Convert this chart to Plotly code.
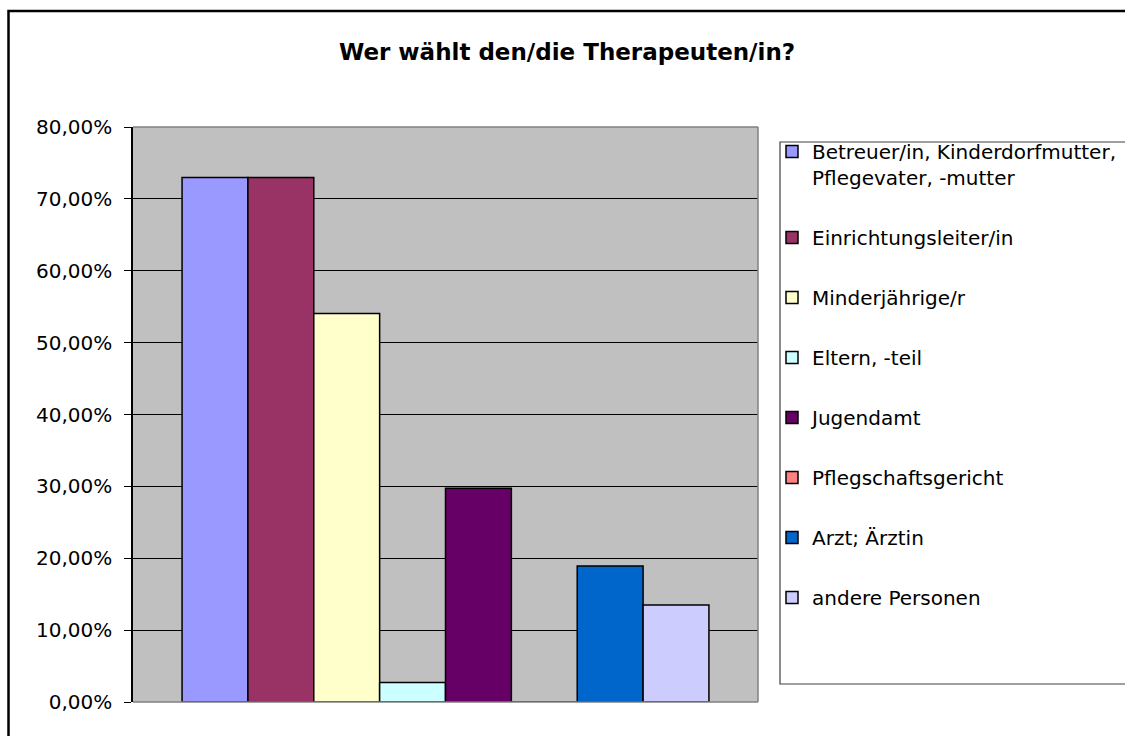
import plotly.graph_objects as go

# ---- data ----
category = ["Wer wählt den/die Therapeuten/in?"]
series_names = [
    "Betreuer/in, Kinderdorfmutter,<br>Pflegevater, -mutter",
    "Einrichtungsleiter/in",
    "Minderjährige/r",
    "Eltern, -teil",
    "Jugendamt",
    "Pflegschaftsgericht",
    "Arzt; Ärztin",
    "andere Personen",
]
series_values = [0.7297, 0.7297, 0.5405, 0.0270, 0.2973, 0.0, 0.1892, 0.1351]
series_colors = ["#9999FF", "#993366", "#FFFFCC", "#CCFFFF", "#660066", "#FF8080", "#0066CC", "#CCCCFF"]
y_ticks = [0.0, 0.1, 0.2, 0.3, 0.4, 0.5, 0.6, 0.7, 0.8]
title_text = "Wer wählt den/die Therapeuten/in?"

FONT = "DejaVu Sans"

# plot area in pixels
W, H = 1125, 736
L, R, T, B = 133, 758, 127, 702


def px_x(p):
    return (p - L) / (R - L)


def px_y(p):
    return (B - p) / (B - T)


fig = go.Figure()
for i, (name, val, col) in enumerate(zip(series_names, series_values, series_colors)):
    fig.add_trace(go.Bar(
        x=category, y=[val], name=name,
        marker=dict(color=col, line=dict(color="black", width=1.5)),
        legendgroup=f"g{i}",
        hoverinfo="name+y",
    ))

shapes = [
    # plot area border (top, right, bottom) gray
    dict(type="line", xref="paper", yref="paper", x0=0, x1=1, y0=1, y1=1,
         line=dict(color="#808080", width=1.5), layer="above"),
    dict(type="line", xref="paper", yref="paper", x0=1, x1=1, y0=0, y1=1,
         line=dict(color="#808080", width=1.5), layer="above"),
    dict(type="line", xref="paper", yref="paper", x0=0, x1=1, y0=0, y1=0,
         line=dict(color="#808080", width=1.5), layer="above"),
    # legend box
    dict(type="rect", xref="paper", yref="paper",
         x0=px_x(780), x1=px_x(1135), y0=px_y(684), y1=px_y(142),
         line=dict(color="#404040", width=1.2), fillcolor="rgba(0,0,0,0)", layer="above"),
    # outer chart border
    dict(type="rect", xref="paper", yref="paper",
         x0=px_x(8.5), x1=px_x(1140), y0=px_y(750), y1=px_y(11),
         line=dict(color="black", width=2.5), fillcolor="rgba(0,0,0,0)", layer="above"),
]

fig.update_layout(
    width=W, height=H, autosize=False,
    margin=dict(l=L, r=W - R, t=T, b=H - B, pad=0, autoexpand=False),
    paper_bgcolor="white",
    plot_bgcolor="#C0C0C0",
    separators=",.",
    font=dict(family=FONT, size=20, color="black"),
    title=dict(text=f"<b>{title_text}</b>", x=567 / W, xref="container", xanchor="center",
               y=1 - 52 / H, yref="container", yanchor="middle",
               font=dict(family=FONT, size=23, color="black")),
    barmode="group",
    bargap=0.157,
    bargroupgap=0,
    showlegend=True,
    legend=dict(
        xref="container", yref="container",
        x=772 / W, xanchor="left", y=1 - 132 / H, yanchor="top",
        bgcolor="rgba(0,0,0,0)", borderwidth=0,
        font=dict(family=FONT, size=20, color="black"),
        traceorder="grouped", tracegroupgap=31, valign="top",
        maxheight=600,
    ),
    shapes=shapes,
)

fig.update_xaxes(showticklabels=False, showgrid=False, zeroline=False, showline=False,
                 ticks="", range=[-0.5, 0.5])
fig.update_yaxes(range=[0, 0.8], tickvals=y_ticks, tickformat=".2%",
                 showgrid=True, gridcolor="black", gridwidth=1,
                 zeroline=False, showline=True, linecolor="black", linewidth=1.5,
                 ticks="outside", ticklen=7, tickcolor="black", tickwidth=1,
                 ticklabelstandoff=8,
                 tickfont=dict(family=FONT, size=20, color="black"))

fig.write_html("out.html", config={"displayModeBar": False},
               post_script="document.body.style.margin='0';document.body.style.overflow='hidden';")
